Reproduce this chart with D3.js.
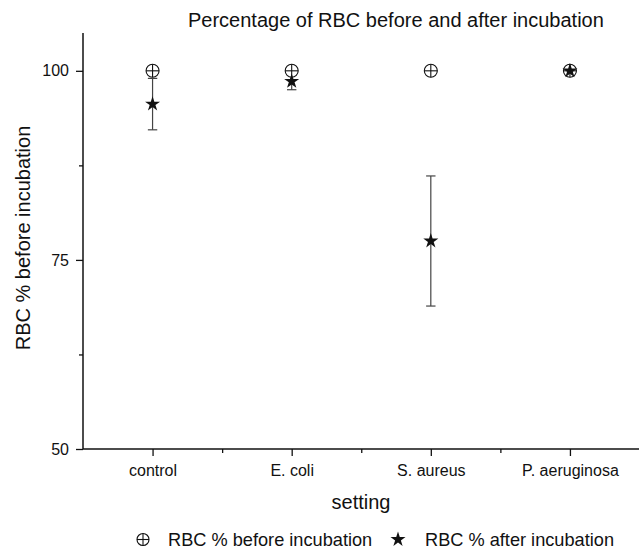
<!DOCTYPE html>
<html>
<head>
<meta charset="utf-8">
<script src="https://cdn.jsdelivr.net/npm/d3@7"></script>
<style>
  body { margin: 0; background: #fff; }
  text { font-family: "Liberation Sans", Arial, sans-serif; fill: #111; }
</style>
</head>
<body>
<svg id="chart" width="639" height="549"></svg>
<script>
const categories = ["control", "E. coli", "S. aureus", "P. aeruginosa"];
const beforeValues = [100, 100, 100, 100];
const afterValues = [95.6, 98.6, 77.5, 100];
const afterErrors = [3.4, 1.1, 8.6, 0];
const yTicks = [50, 75, 100];
const yMinorTicks = [62.5, 87.5];

const svg = d3.select("#chart");
const plotLeft = 83, plotRight = 639.5, plotTop = 33, plotBottom = 449;

const x = d3.scaleLinear().domain([0.5, 4.5]).range([plotLeft, plotRight]);
const y = d3.scaleLinear().domain([50, 105]).range([plotBottom, plotTop]);
const font = "Liberation Sans, Arial, sans-serif";

// title
svg.append("text")
  .attr("x", 188).attr("y", 27)
  .attr("font-size", 20)
  .text("Percentage of RBC before and after incubation");

// y axis
const yAxis = svg.append("g").attr("transform", `translate(${plotLeft},0)`)
  .call(d3.axisLeft(y).tickValues(yTicks).tickSize(7).tickPadding(7).tickFormat(d3.format("d")));
yAxis.select(".domain").attr("d", `M0,${plotBottom}V${plotTop}`).attr("stroke", "#111").attr("stroke-width", 1.5);
yAxis.selectAll(".tick line").attr("stroke", "#111").attr("stroke-width", 1.3);
yAxis.selectAll(".tick text").attr("font-size", 16).attr("font-family", font).attr("fill", "#111");

svg.append("g").attr("transform", `translate(${plotLeft},0)`)
  .call(d3.axisLeft(y).tickValues(yMinorTicks).tickSize(4).tickFormat(""))
  .call(g => g.select(".domain").remove())
  .selectAll(".tick line").attr("stroke", "#111").attr("stroke-width", 1.3);

// x axis
const xAxis = svg.append("g").attr("transform", `translate(0,${plotBottom})`)
  .call(d3.axisBottom(x).tickValues([1, 2, 3, 4]).tickSize(7).tickPadding(9)
    .tickFormat((d, i) => categories[i]));
xAxis.select(".domain").attr("d", `M${plotLeft},0H${plotRight}`).attr("stroke", "#111").attr("stroke-width", 1.5);
xAxis.selectAll(".tick line").attr("stroke", "#111").attr("stroke-width", 1.3);
xAxis.selectAll(".tick text").attr("font-size", 16).attr("font-family", font).attr("fill", "#111");

svg.append("g").attr("transform", `translate(0,${plotBottom})`)
  .call(d3.axisBottom(x).tickValues([1.5, 2.5, 3.5]).tickSize(4).tickFormat(""))
  .call(g => g.select(".domain").remove())
  .selectAll(".tick line").attr("stroke", "#111").attr("stroke-width", 1.3);

// axis labels
svg.append("text")
  .attr("x", 361).attr("y", 509)
  .attr("text-anchor", "middle").attr("font-size", 20)
  .text("setting");

svg.append("text")
  .attr("transform", "translate(30,238) rotate(-90)")
  .attr("text-anchor", "middle").attr("font-size", 20)
  .text("RBC % before incubation");

// error bars
const capW = 4.7;
const err = svg.append("g").attr("stroke", "#444").attr("stroke-width", 1.2);
afterValues.forEach((v, i) => {
  if (!afterErrors[i]) return;
  const cx = x(i + 1);
  const y0 = y(v - afterErrors[i]), y1 = y(v + afterErrors[i]);
  err.append("line").attr("x1", cx).attr("x2", cx).attr("y1", y0).attr("y2", y1);
  err.append("line").attr("x1", cx - capW).attr("x2", cx + capW).attr("y1", y0).attr("y2", y0);
  err.append("line").attr("x1", cx - capW).attr("x2", cx + capW).attr("y1", y1).attr("y2", y1);
});

// circle-plus marker
function circlePlus(g, cx, cy, r) {
  const m = g.append("g").attr("transform", `translate(${cx},${cy})`)
    .attr("stroke", "#111").attr("stroke-width", 1.1).attr("fill", "#fff");
  m.append("circle").attr("r", r);
  m.append("line").attr("x1", -r).attr("x2", r).attr("y1", 0).attr("y2", 0);
  m.append("line").attr("x1", 0).attr("x2", 0).attr("y1", -r).attr("y2", r);
}
const star = d3.symbol().type(d3.symbolStar).size(70);

const beforeG = svg.append("g");
beforeValues.forEach((v, i) => circlePlus(beforeG, x(i + 1), y(v), 6.5));

svg.append("g").selectAll("path").data(afterValues).join("path")
  .attr("d", star)
  .attr("transform", (d, i) => `translate(${x(i + 1)},${y(d)})`)
  .attr("fill", "#111");

// legend
const legY = 539.5;
circlePlus(svg, 143, legY, 6);
svg.append("text").attr("x", 168).attr("y", 546).attr("font-size", 18.2).text("RBC % before incubation");
svg.append("path").attr("d", star).attr("transform", `translate(398,${legY})`).attr("fill", "#111");
svg.append("text").attr("x", 425).attr("y", 546).attr("font-size", 18.2).text("RBC % after incubation");
</script>
</body>
</html>
